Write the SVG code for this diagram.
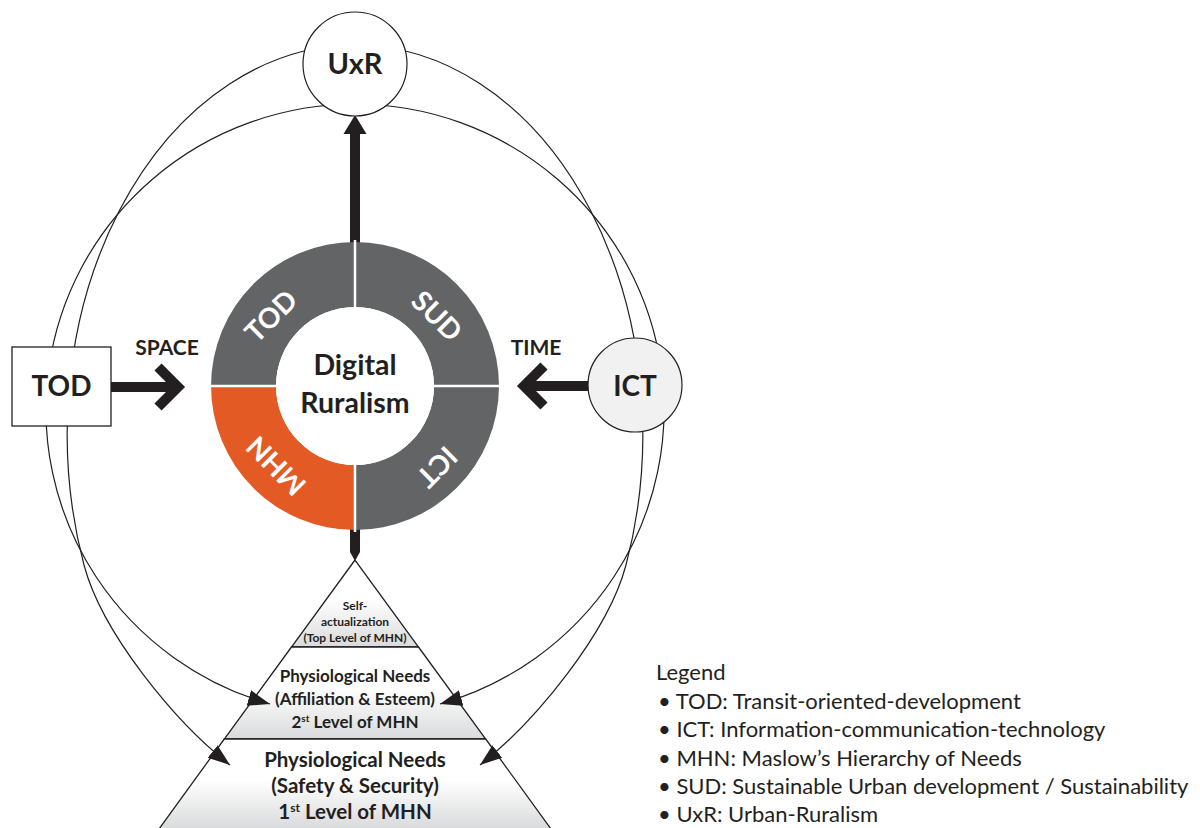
<svg xmlns="http://www.w3.org/2000/svg" width="1200" height="828" viewBox="0 0 1200 828">
<style>
  .b { font-family: Lato, "Liberation Sans", sans-serif; font-weight: 700; fill: #231f20; text-anchor: middle; }
  .r { font-family: Lato, "Liberation Sans", sans-serif; font-weight: 400; fill: #231f20; }
  .w { font-family: Lato, "Liberation Sans", sans-serif; font-weight: 700; fill: #ffffff; text-anchor: middle; }
  .curve { fill: none; stroke: #231f20; stroke-width: 1.2; marker-end: url(#tri); }
  .thick { fill: none; stroke: #231f20; stroke-width: 10; }
  .pyr { stroke: #231f20; stroke-width: 1.3; fill: url(#pg); }
</style>
<defs>
  <marker id="tri" markerUnits="userSpaceOnUse" markerWidth="24" markerHeight="18" refX="22" refY="8" orient="auto">
    <path d="M0,0 L22,8 L0,16 z" fill="#231f20"/>
  </marker>
  <linearGradient id="pg" x1="0" y1="0" x2="0" y2="1">
    <stop offset="0" stop-color="#ffffff"/>
    <stop offset="0.45" stop-color="#ffffff"/>
    <stop offset="1" stop-color="#d9dadb"/>
  </linearGradient>
</defs>
<rect width="1200" height="828" fill="#ffffff"/>

<g id="pyramid">
  <polygon class="pyr" points="355,560 291.5,647 418.5,647"/>
  <polygon class="pyr" points="291.5,647 418.5,647 485.7,739 224.3,739"/>
  <polygon class="pyr" points="224.3,739 485.7,739 551,829 159,829"/>
  <text class="b" font-size="12" x="355" y="610">Self-</text>
  <text class="b" font-size="12" x="355" y="626">actualization</text>
  <text class="b" font-size="12" x="355" y="642">(Top Level of MHN)</text>
  <text class="b" font-size="17" x="355" y="682">Physiological Needs</text>
  <text class="b" font-size="17" x="355" y="705">(Affiliation &amp; Esteem)</text>
  <text class="b" font-size="17" x="355" y="728">2<tspan font-size="10" dy="-6">st</tspan><tspan dy="6"> Level of MHN</tspan></text>
  <text class="b" font-size="20.5" x="355" y="767">Physiological Needs</text>
  <text class="b" font-size="20.5" x="355" y="793">(Safety &amp; Security)</text>
  <text class="b" font-size="20.5" x="355" y="819">1<tspan font-size="12" dy="-7">st</tspan><tspan dy="7"> Level of MHN</tspan></text>
</g>

<g id="connectors">
  <path class="curve" d="M355,45 A288,389 0 0 0 84,565 C102,633 175,722 230,765"/>
  <path class="curve" d="M355,45 A288,389 0 0 1 626,565 C608,633 535,722 480,765"/>
  <path class="curve" d="M355,104 A310,306 0 0 0 270,704"/>
  <path class="curve" d="M355,104 A310,306 0 0 1 440,704"/>
  <line class="thick" x1="355" y1="244" x2="355" y2="132"/>
  <polygon points="355,115 343.5,134 366.5,134" fill="#231f20"/>
  <polygon points="350,528 360,528 360,552 355,561 350,552" fill="#231f20"/>
  <line class="thick" x1="111" y1="387" x2="176" y2="387"/>
  <polyline class="thick" points="158,367 178,387 158,407" stroke-linejoin="miter"/>
  <line class="thick" x1="589" y1="386" x2="526" y2="386"/>
  <polyline class="thick" points="544,366 524,386 544,406" stroke-linejoin="miter"/>
  <text class="b" font-size="21" x="167" y="355">SPACE</text>
  <text class="b" font-size="21" x="536" y="355">TIME</text>
</g>

<g id="ring">
  <path d="M355,242 A144,144 0 0 0 211,386 L276,386 A79,79 0 0 1 355,307 z" fill="#636466"/>
  <path d="M355,242 A144,144 0 0 1 499,386 L434,386 A79,79 0 0 0 355,307 z" fill="#636466"/>
  <path d="M499,386 A144,144 0 0 1 355,530 L355,465 A79,79 0 0 0 434,386 z" fill="#636466"/>
  <path d="M211,386 A144,144 0 0 0 355,530 L355,465 A79,79 0 0 1 276,386 z" fill="#e45a24"/>
  <line x1="355" y1="240" x2="355" y2="532" stroke="#ffffff" stroke-width="2.5"/>
  <line x1="209" y1="386" x2="501" y2="386" stroke="#ffffff" stroke-width="2.5"/>
  <circle cx="355" cy="386" r="79" fill="#ffffff"/>
  <text class="w" font-size="28" transform="translate(271,316) rotate(-45)" x="0" y="10">TOD</text>
  <text class="w" font-size="28" transform="translate(437,316) rotate(45)" x="0" y="10">SUD</text>
  <text class="w" font-size="28" transform="translate(437,467) rotate(135)" x="0" y="10">ICT</text>
  <text class="w" font-size="28" transform="translate(276,466) rotate(-135)" x="0" y="10">MHN</text>
  <text class="b" font-size="28.5" x="355" y="375">Digital</text>
  <text class="b" font-size="28.5" x="355" y="413">Ruralism</text>
</g>

<g id="uxr">
  <circle cx="355" cy="64" r="52" fill="#ffffff" stroke="#231f20" stroke-width="1.2"/>
  <text class="b" font-size="29" x="355" y="74">UxR</text>
</g>

<g id="tod">
  <rect x="12" y="347" width="99" height="79" fill="#ffffff" stroke="#231f20" stroke-width="1.3"/>
  <text class="b" font-size="28" x="61.5" y="396">TOD</text>
</g>

<g id="ict">
  <circle cx="635" cy="385" r="47" fill="#f1f1f2" stroke="#231f20" stroke-width="1.2"/>
  <text class="b" font-size="28" x="635" y="396">ICT</text>
</g>

<g id="legend">
  <text class="r" font-size="22" x="656" y="680">Legend</text>
  <text class="r" font-size="22" x="658" y="709">• TOD: Transit-oriented-development</text>
  <text class="r" font-size="22" x="658" y="737">• ICT: Information-communication-technology</text>
  <text class="r" font-size="22" x="658" y="766">• MHN: Maslow’s Hierarchy of Needs</text>
  <text class="r" font-size="22" x="658" y="794">• SUD: Sustainable Urban development / Sustainability</text>
  <text class="r" font-size="22" x="658" y="822">• UxR: Urban-Ruralism</text>
</g>
</svg>
